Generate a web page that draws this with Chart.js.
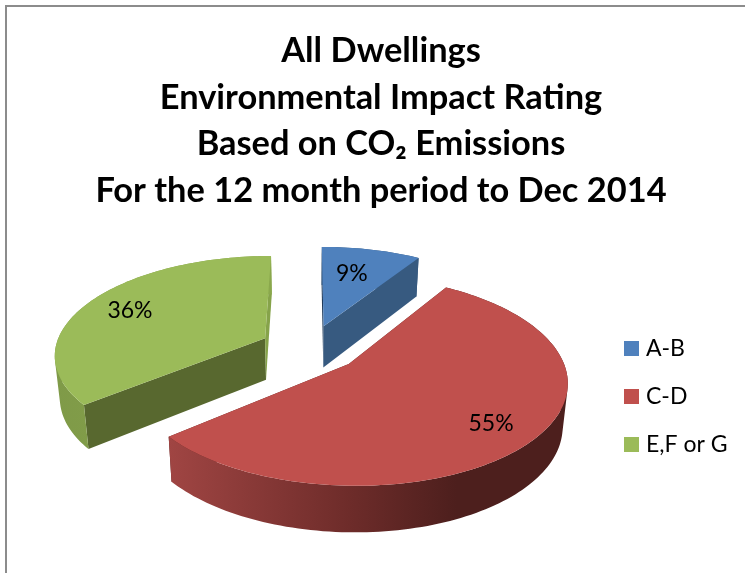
<!DOCTYPE html>
<html><head><meta charset="utf-8">
<style>html,body{margin:0;padding:0;background:#fff}#w{width:745px;height:573px;position:relative}</style>
<script src="https://cdn.jsdelivr.net/npm/chart.js@4"></script>
</head><body><div id="w"><canvas id="c" width="745" height="573"></canvas></div>
<script>
const categories = ['A-B', 'C-D', 'E,F or G'];
const shares = [9, 55, 36];
const titleLines = ['All Dwellings', 'Environmental Impact Rating', 'Based on CO\u2082 Emissions', 'For the 12 month period to Dec 2014'];
const faceColors = ['#4f81bd', '#c0504d', '#9bbb59'];

// Perspective view of the pie, applied to the angles of the library's arc elements
const view = {x0: 310, y0: 348, a: 210, b: 97.7, p: 0.154, depth: 42, shrink: 0.98};
const explode = [0.24, 0.24, 0.24];
const labelAt = [0.649, 0.795, 0.758];
const labelTurn = [-1.5, 0.5, -1.1];
const paintOrder = [0, 2, 1];
const cutColors = [
  ['#1f3a5a', '#375a80'],
  ['#5a2321', '#5a2321'],
  ['#58682f', '#86a34a']
];
const wallStops = [
  [[0, '#375a80'], [1, '#375a80']],
  [[0, '#a04543'], [0.45, '#6e2c2a'], [0.72, '#4d1f1d'], [1, '#4d1f1d']],
  [[0, '#7f9a48'], [1, '#8aa84c']]
];

function project(u, v, low) {
  const w = 1 - view.p * v;
  let X = view.a * u / w, Y = view.b * v / w;
  if (low) { X *= view.shrink; Y += view.depth / (1 - 0.55 * view.p * v); }
  return [view.x0 + X, view.y0 + Y];
}
function ringPoint(cu, cv, th, low) { return project(cu + Math.sin(th), cv - Math.cos(th), low); }
function poly(ctx, pts, fill) {
  ctx.beginPath();
  pts.forEach((p, i) => i ? ctx.lineTo(p[0], p[1]) : ctx.moveTo(p[0], p[1]));
  ctx.closePath();
  ctx.fillStyle = fill;
  ctx.fill();
}
// The outer wall as a union of consistently wound quads, so the silhouette stays straight at the sides
function band(ctx, top, low, fill) {
  ctx.beginPath();
  for (let k = 0; k + 1 < top.length; k++) {
    let q = [top[k], top[k + 1], low[k + 1], low[k]];
    let area = 0;
    q.forEach((p, j) => { const r = q[(j + 1) % 4]; area += p[0] * r[1] - r[0] * p[1]; });
    if (area < 0) q = q.reverse();
    q.forEach((p, j) => j ? ctx.lineTo(p[0], p[1]) : ctx.moveTo(p[0], p[1]));
    ctx.closePath();
  }
  ctx.fillStyle = fill;
  ctx.fill('nonzero');
}

const pie3d = {
  id: 'pie3d',
  beforeDraw(chart) {
    const ctx = chart.ctx;
    ctx.save();
    ctx.strokeStyle = '#8c8c8c';
    ctx.lineWidth = 2;
    ctx.strokeRect(6, 6, 900, 900);
    ctx.restore();
    const lg = chart.legend;
    lg.left = 628.5 - 25; lg.right = 745; lg.top = 312; lg.bottom = 565;
  },
  beforeDatasetDraw(chart) {
    const ctx = chart.ctx;
    const arcs = chart.getDatasetMeta(0).data;
    ctx.save();
    paintOrder.forEach(i => {
      const arc = arcs[i];
      const s = arc.startAngle + Math.PI / 2, e = arc.endAngle + Math.PI / 2, mid = (s + e) / 2;
      const cu = explode[i] * Math.sin(mid), cv = -explode[i] * Math.cos(mid);
      const n = Math.max(8, Math.round((e - s) * 40));
      const top = [], low = [];
      for (let k = 0; k <= n; k++) {
        const th = s + (e - s) * k / n;
        top.push(ringPoint(cu, cv, th, false));
        low.push(ringPoint(cu, cv, th, true));
      }
      const a = project(cu, cv, false), aLow = project(cu, cv, true);
      // cut walls
      poly(ctx, [a, top[0], low[0], aLow], cutColors[i][0]);
      poly(ctx, [a, top[n], low[n], aLow], cutColors[i][1]);
      // outer wall
      const xs = top.map(p => p[0]);
      const g = ctx.createLinearGradient(Math.min(...xs), 0, Math.max(...xs), 0);
      wallStops[i].forEach(st => g.addColorStop(st[0], st[1]));
      band(ctx, top, low, g);
      // top face
      poly(ctx, [a].concat(top), arc.options.backgroundColor);
    });
    ctx.restore();
    return false;
  },
  afterDatasetsDraw(chart) {
    const ctx = chart.ctx;
    const arcs = chart.getDatasetMeta(0).data;
    const total = shares.reduce((x, y) => x + y, 0);
    ctx.save();
    ctx.font = '23px Lato';
    ctx.fillStyle = '#000';
    ctx.textAlign = 'center';
    ctx.textBaseline = 'middle';
    arcs.forEach((arc, i) => {
      const mid = (arc.startAngle + arc.endAngle) / 2 + Math.PI / 2 + labelTurn[i] * Math.PI / 180;
      const r = explode[i] + labelAt[i];
      const p = project(r * Math.sin(mid), -r * Math.cos(mid), false);
      ctx.fillText(Math.round(shares[i] / total * 100) + '%', p[0], p[1]);
    });
    ctx.restore();
  }
};

new Chart(document.getElementById('c'), {
  type: 'pie',
  data: {
    labels: categories,
    datasets: [{data: shares, backgroundColor: faceColors, borderWidth: 0}]
  },
  options: {
    responsive: false,
    animation: false,
    events: [],
    layout: {padding: {top: 20, left: 17}},
    plugins: {
      tooltip: {enabled: false},
      title: {
        display: true,
        text: titleLines,
        color: '#000',
        font: {family: 'Lato', size: 34.4, weight: 'bold', lineHeight: 1.35},
        padding: {top: 8, bottom: 10}
      },
      legend: {
        position: 'right',
        align: 'start',
        labels: {
          color: '#000',
          font: {family: 'Lato', size: 23},
          boxWidth: 6,
          boxHeight: 6,
          padding: 25,
          generateLabels(chart) {
            return Chart.overrides.pie.plugins.legend.labels.generateLabels(chart)
              .map(l => Object.assign(l, {lineWidth: 9, strokeStyle: l.fillStyle}));
          }
        }
      }
    }
  },
  plugins: [pie3d]
});
</script></body></html>
